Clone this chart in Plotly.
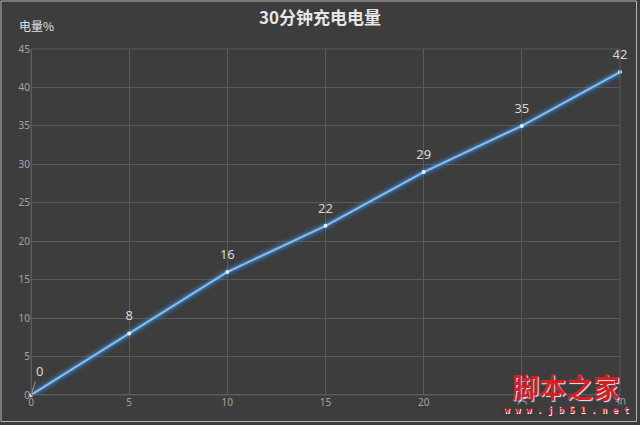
import plotly.graph_objects as go

minutes = [0, 5, 10, 15, 20, 25, 30]
charge = [0, 8, 16, 22, 29, 35, 42]
x_ticks = [0, 5, 10, 15, 20, 25, 30]
y_ticks = [0, 5, 10, 15, 20, 25, 30, 35, 40, 45]

L, R, T, B = 31, 20, 49, 30
PW, PH = 640 - L - R, 425 - T - B

fig = go.Figure()
# glow layers
for w, a in [(11, 0.10), (7, 0.22), (4, 0.35)]:
    fig.add_trace(go.Scatter(x=minutes, y=charge, mode="lines",
                             line=dict(color=f"rgba(60,145,230,{a})", width=w),
                             hoverinfo="skip", showlegend=False))
fig.add_trace(go.Scatter(
    x=minutes, y=charge, mode="lines+markers",
    line=dict(color="#86bdf0", width=2),
    marker=dict(color="#e0f0ff", size=4),
    showlegend=False, cliponaxis=False))
# data labels (first one drawn with a leader line below)
fig.add_trace(go.Scatter(
    x=minutes[1:], y=charge[1:], mode="markers+text",
    marker=dict(color="rgba(0,0,0,0)", size=14),
    text=[str(v) for v in charge[1:]],
    textposition="top center",
    textfont=dict(family="Noto Sans, sans-serif", size=13, color="#d6d6d6"),
    hoverinfo="skip", showlegend=False, cliponaxis=False))

fig.update_layout(
    width=640, height=425,
    paper_bgcolor="#3d3d3d", plot_bgcolor="#3d3d3d",
    margin=dict(l=L, r=R, t=T, b=B, autoexpand=False),
    title=dict(text="<b>30分钟充电电量</b>", x=0.5, xanchor="center", y=1 - 18 / 425, yanchor="middle",
               font=dict(family="Noto Sans CJK SC, sans-serif", size=17, color="#e6e6e6")),
    xaxis=dict(range=[0, 30], tickvals=x_ticks, showgrid=True, gridcolor="#5a5a5a", gridwidth=1,
               zeroline=False, showline=False, ticks="",
               tickfont=dict(family="Noto Sans, sans-serif", size=10, color="#a4a4a4")),
    yaxis=dict(range=[0, 45], tickvals=y_ticks, showgrid=True, gridcolor="#5a5a5a", gridwidth=1,
               zeroline=False, showline=False, ticks="",
               tickfont=dict(family="Noto Sans, sans-serif", size=10, color="#a4a4a4")),
    shapes=[dict(type="rect", xref="paper", yref="paper", x0=0, x1=1, y0=0, y1=1,
                 line=dict(color="#5a5a5a", width=1)),
            dict(type="line", xref="x", yref="paper", x0=0, x1=0, y0=0, y1=1,
                 line=dict(color="#6a6a6a", width=1)),
            dict(type="line", xref="paper", yref="y", x0=0, x1=1, y0=0, y1=0,
                 line=dict(color="#6a6a6a", width=1)),
            dict(type="rect", xref="paper", yref="paper",
                 x0=(1 - L) / PW, x1=1 + (R - 3.5) / PW,
                 y0=-(B - 3.5) / PH, y1=1 + (T - 1) / PH,
                 line=dict(color="#b4b4b4", width=1))],
    annotations=[
        dict(x=minutes[0], y=charge[0], xref="x", yref="y", text=str(charge[0]),
             showarrow=True, arrowhead=0, arrowwidth=1, arrowcolor="#9a9a9a",
             ax=8, ay=-24, standoff=3,
             font=dict(family="Noto Sans, sans-serif", size=13, color="#d6d6d6")),
        dict(text="电量%", xref="paper", yref="paper", x=(17 - L) / PW, y=1 + (T - 25) / PH,
             xanchor="left", yanchor="middle",
             showarrow=False, font=dict(family="Noto Sans CJK SC, sans-serif", size=12, color="#e0e0e0")),
        dict(text="脚本之家", xref="paper", yref="paper", x=(566 - L) / PW, y=-(386 - T - PH) / PH,
             xanchor="center", yanchor="middle",
             showarrow=False,
             font=dict(family="Noto Sans CJK SC, serif", size=27, color="#d81e25", weight=700,
                       shadow="1px 1px 1px #f0f0f0")),
        dict(text="w w w . j b 5 1 . n e t", xref="paper", yref="paper", x=(566 - L) / PW,
             y=-(410 - T - PH) / PH, xanchor="center", yanchor="middle",
             showarrow=False, bgcolor="#3d3d3d", borderpad=0,
             font=dict(family="DejaVu Sans Mono, monospace", size=9, color="#d81e25", weight=700,
                       shadow="1px 1px 0px #f0f0f0")),
    ],
)
fig.write_html("out.html", config={"displayModeBar": False},
               post_script="document.body.style.margin='0';document.body.style.background='#3d3d3d';")
